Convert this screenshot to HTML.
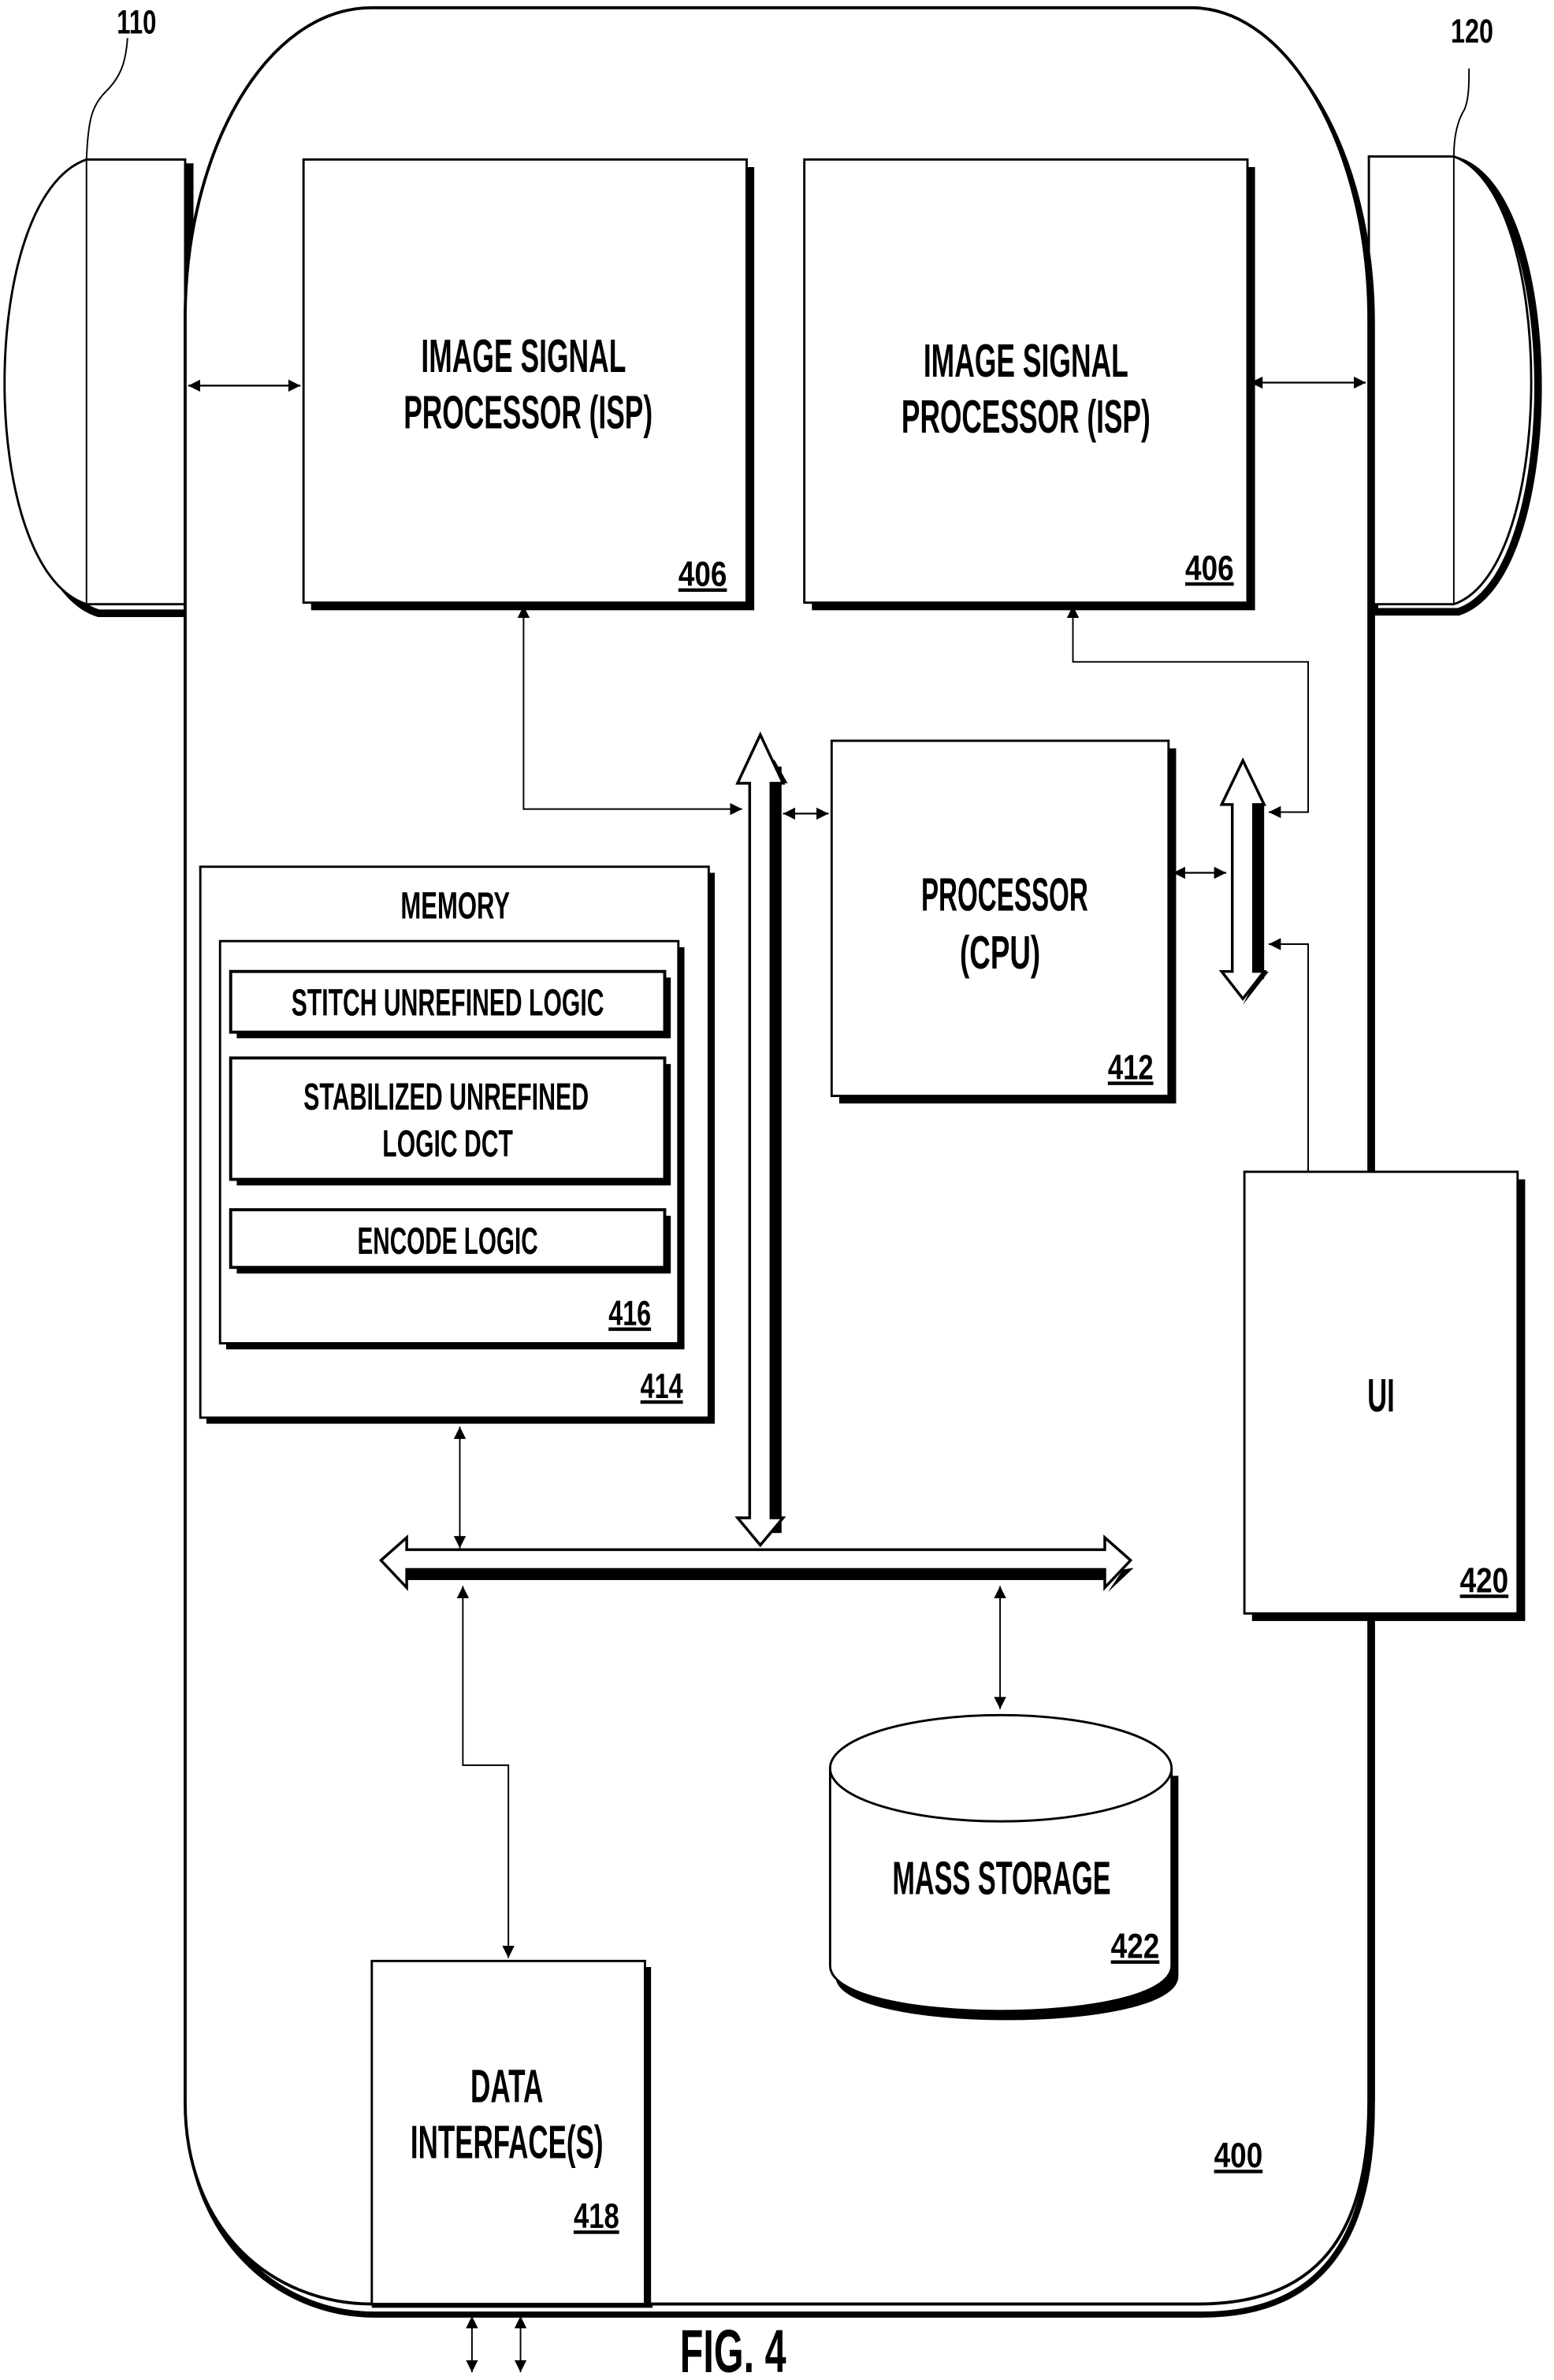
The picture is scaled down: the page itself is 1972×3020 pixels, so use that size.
<!DOCTYPE html>
<html><head><meta charset="utf-8"><style>html,body{margin:0;padding:0;background:#fff}svg{display:block}text{font-family:"Liberation Sans Narrow","Liberation Sans",sans-serif;fill:#000;font-weight:bold}</style></head><body>
<svg width="1972" height="3020" viewBox="0 0 1024 1568" xmlns="http://www.w3.org/2000/svg">
<defs>
<marker id="a" viewBox="0 0 10 10" refX="10" refY="5" markerWidth="8" markerHeight="8" orient="auto-start-reverse" markerUnits="userSpaceOnUse"><path d="M0,0L10,5L0,10z" fill="#000"/></marker>
</defs>
<g fill="none" stroke="#000">
<path d="M62,108 C-10,130 -10,380 62,402 L122,402 L122,108 Z" stroke-width="5" transform="translate(3,2)"/>
<path d="M57,105 C-15,130 -15,375 57,398 L122,398 L122,105 Z" fill="#fff" stroke-width="1.5"/>
<line x1="57" y1="105" x2="57" y2="398" stroke-width="1"/>
<path d="M57,105 C58,80 60,70 70,60 C80,50 83,40 84,25" stroke-width="1"/>
<path d="M958,106 C1028,130 1028,380 958,403 L902,403 Z" stroke-width="5" transform="translate(3,0)"/>
<path d="M958,103 C1026,128 1026,375 958,398 L902,398 L902,103 Z" fill="#fff" stroke-width="1.5"/>
<line x1="958" y1="103" x2="958" y2="398" stroke-width="1"/>
<path d="M958,103 C958,90 960,80 965,72 C968,65 968,55 968,45" stroke-width="1"/>
<path d="M245,8 L785,8 C850,8 902,100 902,210 L902,1385 C902,1470 870,1522 790,1522 L245,1522 C180,1522 122,1470 122,1385 L122,210 C122,100 175,8 245,8 Z" transform="translate(2,3)" stroke-width="4"/>
<path d="M245,5 L785,5 C850,5 902,100 902,210 L902,1385 C902,1470 870,1518 790,1518 L245,1518 C180,1518 122,1470 122,1385 L122,210 C122,100 175,5 245,5 Z" fill="#fff" stroke-width="2"/>
<line x1="904" y1="400" x2="904" y2="1385" stroke-width="4"/>
<rect x="205" y="110" width="292" height="292" fill="#000" stroke="none"/>
<rect x="200" y="105" width="292" height="292" fill="#fff" stroke-width="1.5"/>
<rect x="535" y="110" width="292" height="292" fill="#000" stroke="none"/>
<rect x="530" y="105" width="292" height="292" fill="#fff" stroke-width="1.5"/>
<line x1="124" y1="254" x2="198" y2="254" stroke-width="1.2" marker-start="url(#a)" marker-end="url(#a)"/>
<line x1="824" y1="252" x2="900" y2="252" stroke-width="1.2" marker-start="url(#a)" marker-end="url(#a)"/>
<polyline points="345,399 345,533 489,533" stroke-width="1" marker-start="url(#a)" marker-end="url(#a)"/>
<polyline points="707,399 707,436 862,436 862,535 836,535" stroke-width="1" marker-start="url(#a)" marker-end="url(#a)"/>
<rect x="553" y="493" width="222" height="234" fill="#000" stroke="none"/>
<rect x="548" y="488" width="222" height="234" fill="#fff" stroke-width="1.5"/>
<line x1="516" y1="536" x2="546" y2="536" stroke-width="1.2" marker-start="url(#a)" marker-end="url(#a)"/>
<line x1="773" y1="575" x2="808" y2="575" stroke-width="1.2" marker-start="url(#a)" marker-end="url(#a)"/>
<!-- vertical bus 1 -->
<rect x="508" y="505" width="7" height="505" fill="#000" stroke="none"/>
<path d="M510,500 L519,516 L512,516 Z" fill="#000" stroke="none"/>
<path d="M494,1000 L494,516 L486,516 L501,484 L516,516 L508,516 L508,1000 L516,1000 L501,1018 L486,1000 Z" fill="#fff" stroke-width="1.8"/>
<!-- right bus 2 -->
<rect x="826" y="530" width="7" height="115" fill="#000" stroke="none"/>
<path d="M836,640 L819,662 L830,640 Z" fill="#000" stroke="none"/>
<path d="M812,640 L812,530 L805,530 L819,501 L833,530 L826,530 L826,640 L833,640 L819,658 L805,640 Z" fill="#fff" stroke-width="1.8"/>
<polyline points="862,772 862,622 836,622" stroke-width="1" marker-end="url(#a)"/>
<rect x="825" y="777" width="180" height="291" fill="#000" stroke="none"/>
<rect x="820" y="772" width="180" height="291" fill="#fff" stroke-width="1.5"/>
<rect x="136" y="575" width="335" height="363" fill="#000" stroke="none"/>
<rect x="132" y="571" width="335" height="363" fill="#fff" stroke-width="1.5"/>
<rect x="149" y="624" width="302" height="265" fill="#000" stroke="none"/>
<rect x="145" y="620" width="302" height="265" fill="#fff" stroke-width="1.5"/>
<rect x="156" y="644" width="286" height="40" fill="#000" stroke="none"/>
<rect x="152" y="640" width="286" height="40" fill="#fff" stroke-width="2"/>
<rect x="156" y="701" width="286" height="80" fill="#000" stroke="none"/>
<rect x="152" y="697" width="286" height="80" fill="#fff" stroke-width="2"/>
<rect x="156" y="801" width="286" height="38" fill="#000" stroke="none"/>
<rect x="152" y="797" width="286" height="38" fill="#fff" stroke-width="2"/>
<line x1="303" y1="940" x2="303" y2="1020" stroke-width="1" marker-start="url(#a)" marker-end="url(#a)"/>
<!-- horizontal bus -->
<rect x="268" y="1034" width="462" height="7" fill="#000" stroke="none"/>
<path d="M740,1034 L730,1049 L747,1033 Z" fill="#000" stroke="none"/>
<path d="M268,1034 L268,1046 L251,1028 L268,1013 L268,1021 L728,1021 L728,1013 L745,1028 L728,1046 L728,1034 Z" fill="#fff" stroke-width="1.8"/>
<polyline points="305,1045 305,1163 335,1163 335,1290" stroke-width="1" marker-start="url(#a)" marker-end="url(#a)"/>
<line x1="659" y1="1045" x2="659" y2="1126" stroke-width="1" marker-start="url(#a)" marker-end="url(#a)"/>
<path d="M551,1170 L551,1302 C551,1340 776,1340 776,1302 L776,1170" fill="#000" stroke-width="1"/>
<path d="M547,1165 L547,1295 C547,1335 772,1335 772,1295 L772,1165" fill="#fff" stroke-width="1.5"/>
<ellipse cx="659.5" cy="1165" rx="112.5" ry="35" fill="#fff" stroke-width="1.5"/>
<rect x="249" y="1296" width="180" height="224" fill="#000" stroke="none"/>
<rect x="245" y="1292" width="180" height="226" fill="#fff" stroke-width="1.5"/>
<line x1="245" y1="1519" x2="430" y2="1519" stroke-width="3"/>
<line x1="311" y1="1526" x2="311" y2="1563" stroke-width="1" marker-start="url(#a)" marker-end="url(#a)"/>
<line x1="343" y1="1526" x2="343" y2="1563" stroke-width="1" marker-start="url(#a)" marker-end="url(#a)"/>
</g>
<g text-anchor="middle" font-size="31">
<text x="345" y="245" textLength="135" lengthAdjust="spacingAndGlyphs">IMAGE SIGNAL</text>
<text x="348" y="282" textLength="164" lengthAdjust="spacingAndGlyphs">PROCESSOR (ISP)</text>
<text x="676" y="248" textLength="135" lengthAdjust="spacingAndGlyphs">IMAGE SIGNAL</text>
<text x="676" y="285" textLength="164" lengthAdjust="spacingAndGlyphs">PROCESSOR (ISP)</text>
<text x="662" y="600" textLength="110" lengthAdjust="spacingAndGlyphs">PROCESSOR</text>
<text x="659" y="638" textLength="53" lengthAdjust="spacingAndGlyphs">(CPU)</text>
<text x="910" y="930" textLength="18" lengthAdjust="spacingAndGlyphs">UI</text>
<text x="660" y="1248" textLength="144" lengthAdjust="spacingAndGlyphs">MASS STORAGE</text>
<text x="334" y="1385" textLength="48" lengthAdjust="spacingAndGlyphs">DATA</text>
<text x="334" y="1422" textLength="127" lengthAdjust="spacingAndGlyphs">INTERFACE(S)</text>
<text x="483" y="1563" font-size="40" textLength="70" lengthAdjust="spacingAndGlyphs">FIG. 4</text>
</g>
<g text-anchor="middle" font-size="25">
<text x="300" y="605" textLength="72" lengthAdjust="spacingAndGlyphs">MEMORY</text>
<text x="295" y="669" textLength="206" lengthAdjust="spacingAndGlyphs">STITCH UNREFINED LOGIC</text>
<text x="294" y="731" textLength="188" lengthAdjust="spacingAndGlyphs">STABILIZED UNREFINED</text>
<text x="295" y="762" textLength="86" lengthAdjust="spacingAndGlyphs">LOGIC DCT</text>
<text x="295" y="826" textLength="119" lengthAdjust="spacingAndGlyphs">ENCODE LOGIC</text>
</g>
<g text-anchor="middle" font-size="23" text-decoration="underline">
<text x="463" y="386" textLength="32" lengthAdjust="spacingAndGlyphs">406</text>
<text x="797" y="382" textLength="32" lengthAdjust="spacingAndGlyphs">406</text>
<text x="745" y="711" textLength="30" lengthAdjust="spacingAndGlyphs">412</text>
<text x="415" y="873" textLength="28" lengthAdjust="spacingAndGlyphs">416</text>
<text x="436" y="921" textLength="28" lengthAdjust="spacingAndGlyphs">414</text>
<text x="978" y="1049" textLength="32" lengthAdjust="spacingAndGlyphs">420</text>
<text x="748" y="1290" textLength="32" lengthAdjust="spacingAndGlyphs">422</text>
<text x="393" y="1468" textLength="30" lengthAdjust="spacingAndGlyphs">418</text>
<text x="816" y="1428" textLength="32" lengthAdjust="spacingAndGlyphs">400</text>
</g>
<g text-anchor="middle" font-size="22">
<text x="90" y="22" textLength="26" lengthAdjust="spacingAndGlyphs">110</text>
<text x="970" y="28" textLength="28" lengthAdjust="spacingAndGlyphs">120</text>
</g>
</svg>
</body></html>
